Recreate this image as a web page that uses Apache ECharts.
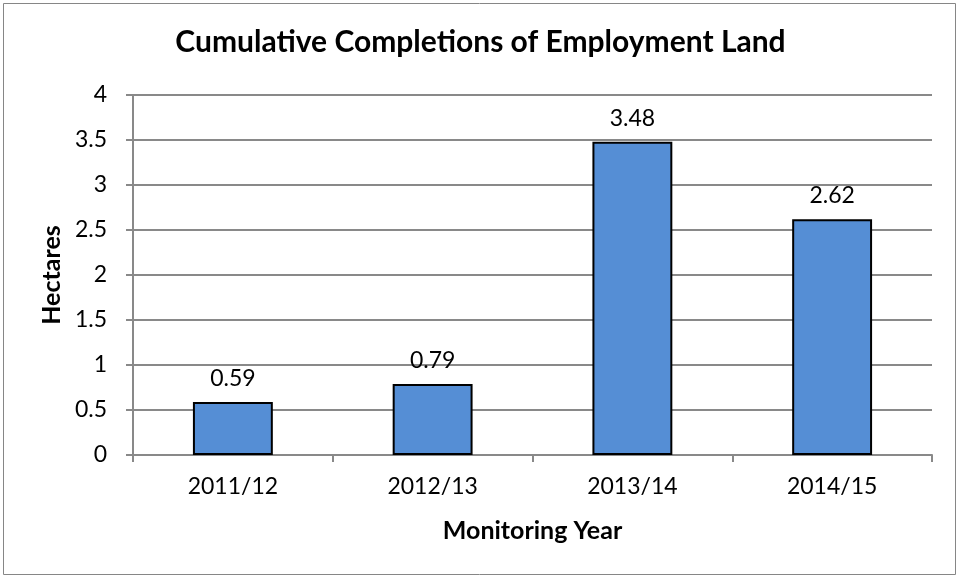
<!DOCTYPE html>
<html>
<head>
  <meta charset="utf-8">
  <title>Cumulative Completions of Employment Land</title>
  <script src="https://cdn.jsdelivr.net/npm/echarts@6/dist/echarts.min.js"></script>
  <style>
    html, body { margin: 0; padding: 0; background: #fff; }
    #chart { width: 961px; height: 579px; }
  </style>
</head>
<body>
  <div id="chart"></div>
  <script>
    // 数据
    const years = ['2011/12', '2012/13', '2013/14', '2014/15'];
    const hectares = [0.59, 0.79, 3.48, 2.62];

    const font = 'Lato, "Open Sans", sans-serif';
    let myChart = echarts.init(document.getElementById('chart'));
    let option = {
      backgroundColor: '#fff',
      animation: false,
      title: {
        text: 'Cumulative Completions of Employment Land',
        left: 'center',
        top: 22,
        textStyle: { fontFamily: font, fontSize: 30, fontWeight: 'bold', color: '#000' }
      },
      graphic: [{
        type: 'rect',
        shape: { x: 3.5, y: 3.5, width: 952, height: 571 },
        style: { fill: 'none', stroke: '#868686', lineWidth: 1 }
      }],
      grid: { left: 133, right: 29, top: 95, bottom: 124 },
      xAxis: {
        type: 'category',
        data: years,
        name: 'Monitoring Year',
        nameLocation: 'middle',
        nameGap: 63,
        nameTextStyle: { fontFamily: font, fontSize: 25, fontWeight: 'bold', color: '#000' },
        axisLine: { lineStyle: { color: '#898989', width: 2 } },
        axisTick: { show: true, length: 7, lineStyle: { color: '#898989', width: 2 } },
        axisLabel: { fontFamily: font, fontSize: 23, color: '#000', margin: 20 }
      },
      yAxis: {
        type: 'value',
        min: 0,
        max: 4,
        interval: 0.5,
        name: 'Hectares',
        nameLocation: 'middle',
        nameGap: 68,
        nameTextStyle: { fontFamily: font, fontSize: 25, fontWeight: 'bold', color: '#000' },
        axisLine: { show: true, lineStyle: { color: '#898989', width: 2 } },
        axisTick: { show: true, length: 7, lineStyle: { color: '#898989', width: 2 } },
        axisLabel: { fontFamily: font, fontSize: 23, color: '#000', margin: 26 },
        splitLine: { lineStyle: { color: '#898989', width: 2 } }
      },
      series: [{
        type: 'bar',
        data: hectares,
        barWidth: '40%',
        itemStyle: { color: '#558ED5', borderColor: '#000', borderWidth: 2 },
        label: {
          show: true,
          position: 'top',
          distance: 12,
          fontFamily: font,
          fontSize: 23,
          color: '#000'
        }
      }]
    };
    myChart.setOption(option);
  </script>
</body>
</html>
